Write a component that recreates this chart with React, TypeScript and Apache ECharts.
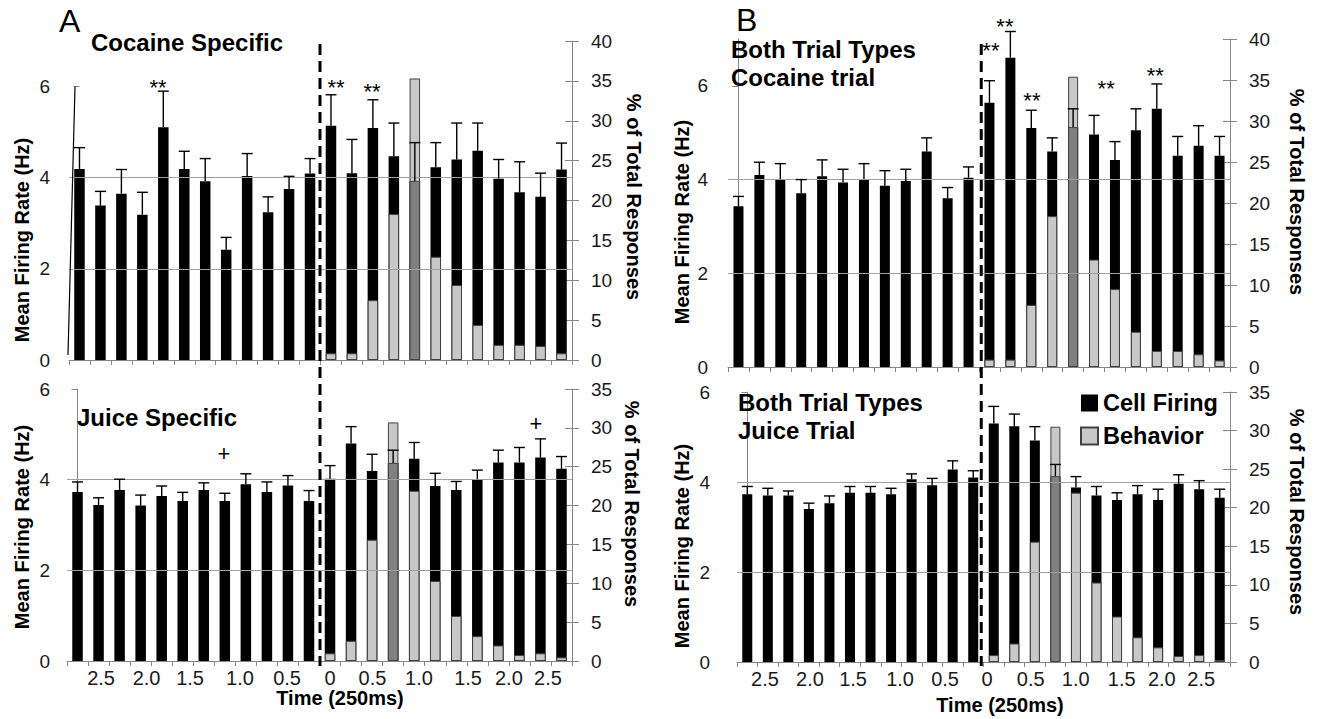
import React, { useEffect, useRef } from 'react';
import * as echarts from 'echarts';

const FONT = '"Liberation Sans", Arial, Helvetica, sans-serif';

// 24 time bins of 250 ms: 12 before and 12 after the event
const bins = ['-12', '-11', '-10', '-9', '-8', '-7', '-6', '-5', '-4', '-3', '-2', '-1',
  '0', '1', '2', '3', '4', '5', '6', '7', '8', '9', '10', '11'];

// tick labels of the time axis and their positions (in bin units)
const timeLabels = ['2.5', '2.0', '1.5', '1.0', '0.5', '0', '0.5', '1.0', '1.5', '2.0', '2.5'];
const aLabelPos = [1.12, 3.28, 5.35, 7.72, 9.96, 12.0, 14.02, 16.23, 18.56, 20.5, 22.36];
const bLabelPos = [0.86, 3.05, 5.15, 7.44, 9.63, 11.67, 13.8, 15.99, 18.23, 20.18, 22.1];

const hzTicks = [0, 2, 4, 6];
const gridLines = [2, 4];

// A top: Cocaine Specific
const aTopFiring = [4.19, 3.39, 3.65, 3.19, 5.11, 4.19, 3.92, 2.42, 4.04, 3.24, 3.75, 4.09,
  5.14, 4.10, 5.09, 4.47, 3.93, 4.23, 4.40, 4.59, 3.98, 3.68, 3.58, 4.18];
const aTopErr = [0.47, 0.31, 0.53, 0.49, 0.79, 0.39, 0.50, 0.27, 0.49, 0.34, 0.28, 0.33,
  0.68, 0.74, 0.62, 0.73, 0.84, 0.54, 0.80, 0.61, 0.42, 0.67, 0.52, 0.58];
const aTopBehavior = [null, null, null, null, null, null, null, null, null, null, null, null,
  0.84, 0.84, 7.5, 18.3, 35.3, 12.95, 9.4, 4.4, 1.9, 1.9, 1.75, 0.84];
const aTopSig: [number, number, string][] = [[3.75, 6.12, '**'], [12.24, 6.12, '**'], [13.96, 6.02, '**']];

// A bottom: Juice Specific
const aBotFiring = [3.73, 3.44, 3.77, 3.43, 3.64, 3.53, 3.77, 3.53, 3.90, 3.73, 3.87, 3.53,
  4.02, 4.80, 4.19, 4.37, 4.46, 3.86, 3.77, 4.01, 4.38, 4.38, 4.49, 4.24];
const aBotErr = [0.22, 0.16, 0.24, 0.23, 0.22, 0.19, 0.16, 0.17, 0.23, 0.22, 0.22, 0.23,
  0.29, 0.37, 0.37, 0.28, 0.36, 0.28, 0.19, 0.20, 0.27, 0.33, 0.41, 0.27];
const aBotBehavior = [null, null, null, null, null, null, null, null, null, null, null, null,
  0.99, 2.6, 15.6, 30.7, 21.9, 10.3, 5.8, 3.2, 2.0, 0.77, 0.99, 0.47];
const aBotSig: [number, number, string][] = [[6.96, 4.57, '+'], [21.79, 5.25, '+']];

// B top: Both Trial Types, Cocaine trial
const bTopFiring = [3.43, 4.10, 4.01, 3.71, 4.07, 3.94, 4.01, 3.87, 3.97, 4.60, 3.60, 4.04,
  5.64, 6.60, 5.10, 4.60, 5.12, 4.96, 4.42, 5.05, 5.51, 4.51, 4.72, 4.51];
const bTopErr = [0.21, 0.27, 0.33, 0.29, 0.35, 0.28, 0.33, 0.32, 0.25, 0.29, 0.23, 0.23,
  0.47, 0.56, 0.38, 0.29, 0.39, 0.41, 0.39, 0.46, 0.53, 0.41, 0.43, 0.41];
const bTopBehavior = [null, null, null, null, null, null, null, null, null, null, null, null,
  0.9, 0.9, 7.57, 18.4, 35.4, 13.1, 9.5, 4.3, 1.95, 1.95, 1.55, 0.8];
const bTopSig: [number, number, string][] = [[12.07, 6.88, '**'], [12.74, 7.39, '**'], [14.03, 5.81, '**'],
  [17.58, 6.07, '**'], [19.93, 6.35, '**']];

// B bottom: Both Trial Types, Juice Trial
const bBotFiring = [3.73, 3.70, 3.70, 3.40, 3.53, 3.76, 3.76, 3.73, 4.06, 3.93, 4.28, 4.10,
  5.30, 5.24, 4.92, 4.13, 3.88, 3.70, 3.60, 3.73, 3.60, 3.96, 3.84, 3.65];
const bBotErr = [0.17, 0.16, 0.10, 0.13, 0.16, 0.14, 0.14, 0.13, 0.12, 0.15, 0.19, 0.15,
  0.38, 0.27, 0.31, 0.26, 0.24, 0.20, 0.16, 0.19, 0.24, 0.20, 0.19, 0.19];
const bBotBehavior = [null, null, null, null, null, null, null, null, null, null, null, null,
  0.9, 2.4, 15.6, 30.5, 21.95, 10.3, 5.9, 3.2, 1.9, 0.78, 0.9, 0.25];
const bBotSig: [number, number, string][] = [];

const panels = [
  { firing: aTopFiring, err: aTopErr, behavior: aTopBehavior, special: 16, sig: aTopSig, top: true,
    grid: { left: 69, top: 41, width: 503, height: 319 }, labelPos: aLabelPos, yMax: 7, rMax: 40,
    leftMargin: 19, leftLine: false, bw: 10.5 },
  { firing: aBotFiring, err: aBotErr, behavior: aBotBehavior, special: 15, sig: aBotSig, top: false,
    grid: { left: 67, top: 389, width: 505, height: 272 }, labelPos: aLabelPos, yMax: 6, rMax: 35,
    leftMargin: 17, leftLine: true, bw: 10.5 },
  { firing: bTopFiring, err: bTopErr, behavior: bTopBehavior, special: 16, sig: bTopSig, top: true,
    grid: { left: 728, top: 39, width: 502, height: 328 }, labelPos: bLabelPos, yMax: 7, rMax: 40,
    leftMargin: 20, leftLine: true, bw: 10 },
  { firing: bBotFiring, err: bBotErr, behavior: bBotBehavior, special: 15, sig: bBotSig, top: false,
    grid: { left: 737, top: 392, width: 493, height: 270 }, labelPos: bLabelPos, yMax: 6, rMax: 35,
    leftMargin: 27, leftLine: true, bw: 10 },
];

const AXIS_COLOR = '#868686';
const LABEL_COLOR = '#1a1a1a';

function buildOption() {
  const grid: any[] = [];
  const xAxis: any[] = [];
  const yAxis: any[] = [];
  const innerTicks: any[] = [];
  const series: any[] = [];

  panels.forEach((p, g) => {
    grid.push({ ...p.grid, containLabel: false });
    const xc = 2 * g;
    const xv = 2 * g + 1;
    const yl = 2 * g;
    const yr = 2 * g + 1;
    const positions = p.labelPos;
    xAxis.push({
      type: 'category', gridIndex: g, data: bins, position: 'bottom', boundaryGap: true,
      axisLine: { show: true, onZero: false, lineStyle: { color: AXIS_COLOR, width: 1 } },
      axisTick: { show: true, interval: 0, length: 5, lineStyle: { color: AXIS_COLOR } },
      axisLabel: { show: false }, splitLine: { show: false },
    });
    xAxis.push({
      type: 'value', gridIndex: g, position: 'bottom', min: -0.5, max: 23.5,
      axisLine: { show: false }, axisTick: { show: false }, splitLine: { show: false },
      axisLabel: p.top ? { show: false } : {
        show: true, customValues: positions, margin: 7, fontSize: 20, color: LABEL_COLOR, fontFamily: FONT,
        formatter: (val: number) => {
          const idx = positions.findIndex((q) => Math.abs(q - val) < 1e-6);
          return idx >= 0 ? timeLabels[idx] : '';
        },
      },
    });
    yAxis.push({
      type: 'value', gridIndex: g, position: 'left', min: 0, max: p.yMax, interval: 2,
      axisLine: { show: p.leftLine, lineStyle: { color: AXIS_COLOR } },
      axisTick: { show: true, length: 6, customValues: hzTicks, lineStyle: { color: AXIS_COLOR } },
      axisLabel: { customValues: hzTicks, margin: p.leftMargin, fontSize: 19, color: LABEL_COLOR, fontFamily: FONT },
      splitLine: { show: false },
    });
    yAxis.push({
      type: 'value', gridIndex: g, position: 'right', min: 0, max: p.rMax, interval: 5,
      axisLine: { show: true, lineStyle: { color: AXIS_COLOR } },
      axisTick: { show: true, length: 7, lineStyle: { color: AXIS_COLOR } },
      axisLabel: { margin: 19, fontSize: 19, color: LABEL_COLOR, fontFamily: FONT },
      splitLine: { show: false },
    });
    // inner half of the crossing ticks of the right axis
    innerTicks.push({
      type: 'value', gridIndex: g, position: 'right', min: 0, max: p.rMax, interval: 5,
      axisLine: { show: false },
      axisTick: { show: true, inside: true, length: 7, lineStyle: { color: AXIS_COLOR } },
      axisLabel: { show: false }, splitLine: { show: false },
    });

    series.push({
      type: 'line', name: 'grid' + g, xAxisIndex: xc, yAxisIndex: yl, data: [], z: 1, silent: true,
      markLine: {
        silent: true, symbol: 'none', label: { show: false },
        lineStyle: { color: '#a0a0a0', width: 1, type: 'solid' },
        data: gridLines.map((v) => ({ yAxis: v })),
      },
    });
    series.push({
      type: 'bar', name: 'Cell Firing', xAxisIndex: xc, yAxisIndex: yl, data: p.firing,
      barWidth: p.bw, barGap: '-100%', itemStyle: { color: '#000' }, z: 2, silent: true,
    });
    series.push({
      type: 'bar', name: 'Behavior', xAxisIndex: xc, yAxisIndex: yr, data: p.behavior,
      barWidth: p.bw, barGap: '-100%',
      itemStyle: { color: '#c8c8c8', borderColor: '#404040', borderWidth: 1 }, z: 3, silent: true,
    });
    series.push({
      type: 'bar', name: 'overlap' + g, xAxisIndex: xc, yAxisIndex: yl,
      data: p.firing.map((v, i) => (i === p.special ? v : null)),
      barWidth: p.bw, barGap: '-100%',
      itemStyle: { color: '#808080', borderColor: '#404040', borderWidth: 1 }, z: 4, silent: true,
    });
    series.push({
      type: 'custom', name: 'sem' + g, xAxisIndex: xc, yAxisIndex: yl, z: 5, silent: true, clip: false,
      data: p.firing.map((v, i) => [i, v, p.err[i]]),
      encode: { x: 0, y: 1 },
      renderItem: (params: any, api: any) => {
        const i = api.value(0);
        const v = api.value(1);
        const e = api.value(2);
        const b = api.coord([i, v]);
        const t = api.coord([i, v + e]);
        const hw = 5.5;
        const st = { stroke: '#000', lineWidth: 1.4 };
        return {
          type: 'group',
          children: [
            { type: 'line', shape: { x1: b[0], y1: b[1], x2: t[0], y2: t[1] }, style: st },
            { type: 'line', shape: { x1: t[0] - hw, y1: t[1], x2: t[0] + hw, y2: t[1] }, style: st },
          ],
        };
      },
    });
    if (p.sig.length) {
      const sig = p.sig;
      series.push({
        type: 'custom', name: 'sig' + g, xAxisIndex: xv, yAxisIndex: yl, z: 6, silent: true, clip: false,
        data: sig.map((s) => [s[0], s[1]]),
        encode: { x: 0, y: 1 },
        renderItem: (params: any, api: any) => {
          const pt = api.coord([api.value(0), api.value(1)]);
          const txt = sig[params.dataIndex][2];
          return {
            type: 'text', x: pt[0], y: pt[1] + (txt === '**' ? 6 : 0),
            style: { text: txt, fontSize: 22, fontFamily: FONT, fill: '#000', align: 'center', verticalAlign: 'middle' },
          };
        },
      });
    }
  });

  return {
    animation: false,
    backgroundColor: '#fff',
    grid, xAxis, yAxis: yAxis.concat(innerTicks), series,
    legend: {
      orient: 'vertical', left: 1080, top: 391, padding: 0, itemWidth: 17, itemHeight: 17, itemGap: 9,
      icon: 'rect', selectedMode: false, data: ['Cell Firing', 'Behavior'],
      textStyle: { fontSize: 23.5, fontWeight: 'bold', fontFamily: FONT, color: '#000' },
    },
  };
}

function text(t: string, x: number, y: number, size: number, bold: boolean, rotation = 0, align = 'left') {
  return {
    type: 'text', x, y, rotation, silent: true, z: 20,
    style: {
      text: t, fontSize: size, fontWeight: bold ? 'bold' : 'normal', fontFamily: FONT, fill: '#000',
      align, verticalAlign: 'middle',
    },
  };
}

function buildGraphics(chart: any) {
  const px = (finder: any, v: number) => chart.convertToPixel(finder, v) as number;
  const xA = (px({ xAxisIndex: 1 }, 11.5) + px({ xAxisIndex: 3 }, 11.5)) / 2;
  const xB = (px({ xAxisIndex: 5 }, 11.5) + px({ xAxisIndex: 7 }, 11.5)) / 2;
  const dash = (x: number) => ({
    type: 'line', silent: true, z: 30, shape: { x1: x, y1: 44, x2: x, y2: 666 },
    style: { stroke: '#000', lineWidth: 3, lineDash: [11, 6] },
  });
  const ax0 = px({ xAxisIndex: 1 }, -0.5);
  const y6 = px({ yAxisIndex: 0 }, 6);
  const y0 = px({ yAxisIndex: 0 }, 0);
  const R = Math.PI / 2;
  return [
    dash(xA), dash(xB),
    { type: 'line', silent: true, z: 30, shape: { x1: ax0 + 6, y1: y6, x2: ax0 - 1, y2: y0 - 5 }, style: { stroke: '#000', lineWidth: 1.2 } },
    text('A', 59, 20.5, 32, false),
    text('B', 736, 19.5, 32, false),
    text('Cocaine Specific', 91, 42, 24, true),
    text('Juice Specific', 77, 417, 24, true),
    text('Both Trial Types', 731, 49, 24, true),
    text('Cocaine trial', 731, 77.5, 24, true),
    text('Both Trial Types', 738, 402.5, 24, true),
    text('Juice Trial', 738, 430.5, 24, true),
    text('Mean Firing Rate (Hz)', 22, 240, 20, true, R, 'center'),
    text('Mean Firing Rate (Hz)', 22, 527, 20, true, R, 'center'),
    text('Mean Firing Rate (Hz)', 682, 222, 20, true, R, 'center'),
    text('Mean Firing Rate (Hz)', 682, 546, 20, true, R, 'center'),
    text('% of Total Responses', 634, 197, 20, true, -R, 'center'),
    text('% of Total Responses', 632, 504, 20, true, -R, 'center'),
    text('% of Total Responses', 1297, 192, 20, true, -R, 'center'),
    text('% of Total Responses', 1297, 512, 20, true, -R, 'center'),
    text('Time (250ms)', 340, 698, 20, true, 0, 'center'),
    text('Time (250ms)', 1000, 705, 20, true, 0, 'center'),
  ];
}

export default function App() {
  const ref = useRef<HTMLDivElement>(null);
  useEffect(() => {
    if (!ref.current) return;
    const chart = echarts.init(ref.current, undefined, { renderer: 'svg' });
    chart.setOption(buildOption() as any);
    chart.setOption({ graphic: { elements: buildGraphics(chart) } } as any);
    return () => {
      chart.dispose();
    };
  }, []);
  return (
    <div
      ref={ref}
      style={{ position: 'fixed', left: 0, top: 0, width: 1320, height: 719, background: '#fff' }}
    />
  );
}
